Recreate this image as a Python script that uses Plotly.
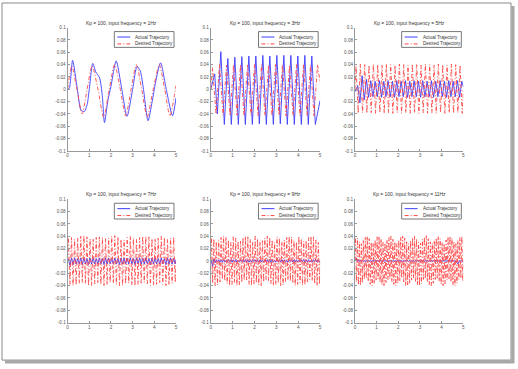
import numpy as np
import plotly.graph_objects as go

W, H = 518, 369

# ---------------- text / ticks ----------------
titles = ["Kp = 100, input frequency = 1Hz", "Kp = 100, input frequency = 3Hz",
          "Kp = 100, input frequency = 5Hz", "Kp = 100, input frequency = 7Hz",
          "Kp = 100, input frequency = 9Hz", "Kp = 100, input frequency = 11Hz"]
legend_labels = ["Actual Trajectory", "Desired Trajectory"]
x_ticks = [0, 1, 2, 3, 4, 5]
x_tick_labels = ["0", "1", "2", "3", "4", "5"]
y_ticks = [0.1, 0.08, 0.06, 0.04, 0.02, 0, -0.02, -0.04, -0.06, -0.08, -0.1]
y_tick_labels = ["0.1", "0.08", "0.06", "0.04", "0.02", "0", "-0.02", "-0.04", "-0.06", "-0.08", "-0.1"]

# ---------------- 1 Hz ----------------
t_act_1 = [0.00, 0.08, 0.23, 0.45, 0.62, 0.77, 0.90, 1.00, 1.16, 1.30, 1.47, 1.60, 1.70, 1.86, 2.00,
           2.24, 2.50, 2.74, 3.00, 3.20, 3.35, 3.50, 3.71, 3.90, 4.05, 4.29, 4.55, 4.84, 5.00]
y_act_1 = [0.000, 0.002, 0.047, 0.000, -0.034, -0.036, -0.025, 0.000, 0.042, 0.028, 0.019, -0.010, -0.054, -0.018, 0.005,
           0.046, 0.000, -0.044, 0.000, 0.037, 0.030, 0.000, -0.051, -0.020, 0.010, 0.043, 0.000, -0.043, -0.014]
t_des_1 = [0.00, 0.19, 0.43, 0.67, 0.90, 1.13, 1.40, 1.66, 1.92, 2.17, 2.43, 2.68, 2.93, 3.17, 3.42,
           3.67, 3.95, 4.23, 4.48, 4.72, 5.00]
y_des_1 = [0.000, 0.038, 0.000, -0.040, 0.000, 0.038, 0.000, -0.045, 0.000, 0.040, 0.000, -0.043, 0.000, 0.040, 0.000,
           -0.045, 0.000, 0.040, 0.000, -0.043, 0.006]

# ---------------- 3 Hz ----------------
t_act_2 = [0.00, 0.18, 0.30, 0.46, 0.62, 0.78, 0.94, 1.10, 1.26, 1.42, 1.58, 1.74, 1.90, 2.06, 2.22, 2.38,
           2.54, 2.70, 2.86, 3.02, 3.18, 3.34, 3.50, 3.66, 3.82, 3.98, 4.14, 4.30, 4.46, 4.62, 4.78, 5.00]
y_act_2 = [0.000, 0.025, -0.040, 0.061, -0.057, 0.050, -0.057, 0.052, -0.057, 0.053, -0.057, 0.054, -0.057, 0.054,
           -0.056, 0.055, -0.057, 0.054, -0.057, 0.055, -0.056, 0.055, -0.057, 0.055, -0.057, 0.054, -0.057, 0.055,
           -0.057, 0.054, -0.057, -0.018]
t_des_2 = [0.00, 0.08, 0.24, 0.40, 0.56, 0.72, 0.88, 1.04, 1.20, 1.36, 1.52, 1.68, 1.84, 2.00, 2.16, 2.32, 2.48,
           2.64, 2.80, 2.96, 3.12, 3.28, 3.44, 3.60, 3.76, 3.92, 4.08, 4.24, 4.40, 4.56, 4.72, 4.88, 5.00]
y_des_2 = [0.000, 0.035, -0.040, 0.040, -0.042, 0.039, -0.043, 0.040, -0.042, 0.040, -0.043, 0.039, -0.042, 0.040,
           -0.043, 0.040, -0.042, 0.039, -0.043, 0.040, -0.042, 0.040, -0.043, 0.039, -0.042, 0.040, -0.043, 0.040,
           -0.042, 0.039, -0.043, 0.040, 0.010]

# ---------------- 5 Hz (extremes sampled every 0.1 s) ----------------
y_act_3 = [0.000,
           -0.003, 0.006, -0.022, 0.022, -0.017, 0.016, -0.013, 0.014, -0.012, 0.013,
           -0.012, 0.014, -0.013, 0.013, -0.012, 0.014, -0.012, 0.013, -0.013, 0.014,
           -0.012, 0.013, -0.012, 0.014, -0.013, 0.013, -0.012, 0.014, -0.012, 0.013,
           -0.013, 0.014, -0.012, 0.013, -0.012, 0.014, -0.013, 0.013, -0.012, 0.014,
           -0.012, 0.013, -0.013, 0.014, -0.012, 0.013, -0.012, 0.014, -0.013, 0.013,
           0.004]
y_des_3 = [0.000,
           0.038, -0.039, 0.041, -0.038, 0.040, -0.039, 0.039, -0.038, 0.041, -0.039,
           0.040, -0.038, 0.039, -0.039, 0.041, -0.038, 0.040, -0.039, 0.039, -0.038,
           0.041, -0.039, 0.040, -0.038, 0.039, -0.039, 0.041, -0.038, 0.040, -0.039,
           0.039, -0.038, 0.041, -0.039, 0.040, -0.038, 0.039, -0.039, 0.041, -0.038,
           0.040, -0.039, 0.039, -0.038, 0.041, -0.039, 0.040, -0.038, 0.039, -0.039,
           0.000]

# ---------------- 7 Hz ----------------
y_act_4 = [0.000,
           0.003, -0.007, 0.005, -0.006, 0.005, -0.005, 0.004, -0.005, 0.005, -0.006,
           0.005, -0.005, 0.004, -0.006, 0.005, -0.005, 0.005, -0.005, 0.004, -0.005,
           0.005, -0.005, 0.004, -0.006, 0.005, -0.005, 0.005, -0.005, 0.004, -0.005,
           0.005, -0.005, 0.004, -0.006, 0.005, -0.005, 0.005, -0.005, 0.004, -0.005,
           0.005, -0.005, 0.004, -0.006, 0.005, -0.005, 0.005, -0.005, 0.004, -0.005,
           0.005, -0.005, 0.004, -0.006, 0.005, -0.005, 0.005, -0.005, 0.004, -0.005,
           0.005, -0.005, 0.004, -0.006, 0.005, -0.005, 0.005, -0.005, 0.004, -0.005,
           0.002]
y_des_4 = [0.000,
           0.040, -0.038, 0.038, -0.040, 0.035, -0.039, 0.037, -0.036, 0.040, -0.035,
           0.041, -0.037, 0.039, -0.040, 0.036, -0.040, 0.035, -0.037, 0.038, -0.035,
           0.039, -0.038, 0.038, -0.040, 0.036, -0.039, 0.037, -0.035, 0.040, -0.036,
           0.041, -0.038, 0.039, -0.040, 0.035, -0.040, 0.034, -0.037, 0.038, -0.036,
           0.040, -0.039, 0.037, -0.040, 0.035, -0.038, 0.038, -0.036, 0.040, -0.035,
           0.040, -0.037, 0.039, -0.040, 0.036, -0.039, 0.035, -0.038, 0.037, -0.035,
           0.040, -0.038, 0.038, -0.040, 0.035, -0.039, 0.037, -0.036, 0.039, -0.035,
           0.000]

# ---------------- 9 Hz ----------------
y_act_5 = [0.000,
           0.001, -0.009, 0.003, -0.003, 0.002, -0.002, 0.002, -0.002, 0.002, -0.002,
           0.002, -0.002, 0.001, -0.002, 0.002, -0.001, 0.002, -0.002, 0.002, -0.002,
           0.002, -0.002, 0.001, -0.002, 0.002, -0.001, 0.002, -0.002, 0.002, -0.002,
           0.002, -0.002, 0.001, -0.002, 0.002, -0.001, 0.002, -0.002, 0.002, -0.002,
           0.002, -0.002, 0.001, -0.002, 0.002, -0.001, 0.002, -0.002, 0.002, -0.002,
           0.002, -0.002, 0.001, -0.002, 0.002, -0.001, 0.002, -0.002, 0.002, -0.002,
           0.002, -0.002, 0.001, -0.002, 0.002, -0.001, 0.002, -0.002, 0.002, -0.002,
           0.002, -0.002, 0.001, -0.002, 0.002, -0.001, 0.002, -0.002, 0.002, -0.002,
           0.002, -0.002, 0.001, -0.002, 0.002, -0.001, 0.002, -0.002, 0.002, -0.002,
           0.000]
y_des_5 = [0.000,
           0.040, -0.036, 0.036, -0.040, 0.031, -0.039, 0.033, -0.034, 0.038, -0.030, 0.040, -0.032, 0.039, -0.037, 0.034, -0.040, 0.030, -0.038,
           0.039, -0.035, 0.037, -0.040, 0.032, -0.039, 0.032, -0.035, 0.038, -0.031, 0.040, -0.031, 0.039, -0.038, 0.035, -0.040, 0.031, -0.037,
           0.040, -0.036, 0.036, -0.039, 0.031, -0.040, 0.033, -0.034, 0.037, -0.030, 0.040, -0.032, 0.038, -0.037, 0.034, -0.040, 0.030, -0.038,
           0.039, -0.036, 0.037, -0.040, 0.031, -0.039, 0.034, -0.033, 0.038, -0.031, 0.040, -0.033, 0.039, -0.036, 0.033, -0.040, 0.031, -0.038,
           0.040, -0.035, 0.036, -0.040, 0.032, -0.039, 0.033, -0.034, 0.038, -0.030, 0.040, -0.032, 0.039, -0.037, 0.034, -0.040, 0.030, -0.038,
           0.000]

# ---------------- 11 Hz ----------------
y_act_6 = [0.000,
           0.002, 0.004, -0.001, 0.002, -0.001, 0.001, -0.001, 0.001, -0.001, 0.001,
           -0.001, 0.001, -0.001, 0.001, -0.001, 0.001, -0.001, 0.001, -0.001, 0.001,
           -0.001, 0.001, -0.001, 0.001, -0.001, 0.001, -0.001, 0.001, -0.001, 0.001,
           -0.001, 0.001, -0.001, 0.001, -0.001, 0.001, -0.001, 0.001, -0.001, 0.001,
           -0.001, 0.001, -0.001, 0.001, -0.001, 0.001, -0.001, 0.001, -0.001, 0.001,
           -0.001, 0.001, -0.001, 0.001, -0.001, 0.001, -0.001, 0.001, -0.001, 0.001,
           -0.001, 0.001, -0.001, 0.001, -0.001, 0.001, -0.001, 0.001, -0.001, 0.001,
           -0.001, 0.001, -0.001, 0.001, -0.001, 0.001, -0.001, 0.001, -0.001, 0.001,
           -0.001, 0.001, -0.001, 0.001, -0.001, 0.001, -0.001, 0.001, -0.001, 0.001,
           -0.001, 0.001, -0.001, 0.001, -0.001, 0.001, -0.001, 0.001, -0.001, 0.001,
           -0.001, 0.001, -0.001, -0.002, -0.005, -0.001, 0.001, -0.001, 0.001, -0.001,
           0.001]
y_des_6 = [0.000,
           0.040, -0.034, 0.037, -0.039, 0.031, -0.040, 0.028, -0.036, 0.033, -0.030, 0.038, -0.028,
           0.040, -0.033, 0.036, -0.038, 0.030, -0.040, 0.029, -0.037, 0.034, -0.031, 0.039, -0.029,
           0.040, -0.035, 0.036, -0.039, 0.030, -0.040, 0.029, -0.035, 0.034, -0.030, 0.038, -0.029,
           0.040, -0.034, 0.035, -0.038, 0.031, -0.040, 0.028, -0.036, 0.034, -0.032, 0.039, -0.028,
           0.040, -0.034, 0.037, -0.040, 0.031, -0.039, 0.028, -0.036, 0.033, -0.031, 0.038, -0.028,
           0.040, -0.033, 0.036, -0.039, 0.030, -0.040, 0.029, -0.037, 0.035, -0.030, 0.039, -0.029,
           0.041, -0.034, 0.036, -0.039, 0.031, -0.040, 0.029, -0.036, 0.033, -0.030, 0.037, -0.028,
           0.040, -0.033, 0.036, -0.038, 0.030, -0.040, 0.028, -0.037, 0.034, -0.031, 0.039, -0.029,
           0.040, -0.034, 0.037, -0.039, 0.031, -0.040, 0.028, -0.036, 0.033, -0.030, 0.038, -0.028,
           0.040, -0.033,
           0.000]

# sample-time grids (extremes every half period, plus start/end points)
def grid(first, last, n):
    return np.concatenate([[0.0], np.linspace(first, last, n - 2), [5.0]])

t_act_3 = grid(0.03, 4.93, len(y_act_3)); t_des_3 = grid(0.05, 4.95, len(y_des_3))
t_act_4 = grid(0.036, 4.964, len(y_act_4)); t_des_4 = grid(0.036, 4.964, len(y_des_4))
t_act_5 = grid(0.028, 4.972, len(y_act_5)); t_des_5 = grid(0.028, 4.972, len(y_des_5))
t_act_6 = grid(0.023, 4.977, len(y_act_6)); t_des_6 = grid(0.023, 4.977, len(y_des_6))

series = [(t_act_1, y_act_1, t_des_1, y_des_1), (t_act_2, y_act_2, t_des_2, y_des_2),
          (t_act_3, y_act_3, t_des_3, y_des_3), (t_act_4, y_act_4, t_des_4, y_des_4),
          (t_act_5, y_act_5, t_des_5, y_des_5), (t_act_6, y_act_6, t_des_6, y_des_6)]

# ---------------- layout geometry (pixels) ----------------
cols_px = [(67, 176), (211, 321), (356, 465)]
rows_px = [(26, 151), (200, 325)]

def px(x):
    return x / W

def py(y):
    return 1 - y / H

FONT = "Liberation Sans, Arial, sans-serif"
BLUE = "rgb(60,60,255)"
RED = "rgb(255,70,70)"
RED_DASH = "4px,2px,1px,2px"

fig = go.Figure()
shapes = []
annotations = []

for i, (ta, ya, td, yd) in enumerate(series):
    r, c = divmod(i, 3)
    xa = "x" if i == 0 else f"x{i+1}"
    yax = "y" if i == 0 else f"y{i+1}"
    shape = "spline" if i == 0 else "linear"
    fig.add_trace(go.Scatter(x=ta, y=ya, mode="lines", xaxis=xa, yaxis=yax,
                             name=legend_labels[0], showlegend=False,
                             line=dict(color=BLUE, width=0.9, shape=shape, smoothing=0.7)))
    fig.add_trace(go.Scatter(x=td, y=yd, mode="lines", xaxis=xa, yaxis=yax,
                             name=legend_labels[1], showlegend=False,
                             line=dict(color=RED, width=0.9, dash=RED_DASH, shape=shape, smoothing=0.7)))

    x0, x1 = cols_px[c]
    y0, y1 = rows_px[r]
    key = "" if i == 0 else str(i + 1)
    fig.update_layout(**{
        f"xaxis{key}": dict(domain=[px(x0), px(x1)], range=[0, 5], anchor=yax,
                            tickvals=x_ticks, ticktext=x_tick_labels, ticks="inside", ticklen=2,
                            tickcolor="#999999", showline=True, linecolor="#999999", linewidth=1,
                            showgrid=False, zeroline=False,
                            tickfont=dict(size=4.6, color="#555555", family=FONT)),
        f"yaxis{key}": dict(domain=[py(y1), py(y0)], range=[-0.1, 0.1], anchor=xa,
                            tickvals=y_ticks, ticktext=y_tick_labels, ticks="inside", ticklen=2,
                            tickcolor="#999999", showline=True, linecolor="#999999", linewidth=1,
                            showgrid=False, zeroline=False,
                            tickfont=dict(size=4.6, color="#555555", family=FONT)),
    })

    # title
    annotations.append(dict(x=px((x0 + x1) / 2), y=py(y0 - 4.5), xref="paper", yref="paper",
                            text=titles[i], showarrow=False, xanchor="center", yanchor="middle",
                            font=dict(size=4.9, color="#333333", family=FONT)))

    # legend box
    bx0, bx1 = x1 - 62, x1 - 2
    by0, by1 = y0 + 4, y0 + 20
    shapes.append(dict(type="rect", xref="paper", yref="paper",
                       x0=px(bx0), x1=px(bx1), y0=py(by1), y1=py(by0),
                       line=dict(color="#555555", width=0.8), fillcolor="white", layer="above"))
    for k, (lbl, col, dash) in enumerate([(legend_labels[0], BLUE, "solid"),
                                          (legend_labels[1], RED, RED_DASH)]):
        ly = by0 + 5.5 + k * 7
        shapes.append(dict(type="line", xref="paper", yref="paper",
                           x0=px(bx0 + 3), x1=px(bx0 + 16), y0=py(ly), y1=py(ly),
                           line=dict(color=col, width=1, dash=dash), layer="above"))
        annotations.append(dict(x=px(bx0 + 19), y=py(ly), xref="paper", yref="paper",
                                text=lbl, showarrow=False, xanchor="left", yanchor="middle",
                                font=dict(size=4.6, color="#333333", family=FONT)))

# window frame with shadow
shapes.append(dict(type="line", xref="paper", yref="paper", x0=px(515), x1=px(515), y0=py(366), y1=py(4),
                   line=dict(color="#a8a8a8", width=3), layer="above"))
shapes.append(dict(type="line", xref="paper", yref="paper", x0=px(4), x1=px(516), y0=py(365), y1=py(365),
                   line=dict(color="#a8a8a8", width=3), layer="above"))
shapes.append(dict(type="rect", xref="paper", yref="paper", x0=px(1), x1=px(513), y0=py(363), y1=py(1),
                   line=dict(color="#8a8a8a", width=1), layer="above"))

fig.update_layout(width=W, height=H, margin=dict(l=0, r=0, t=0, b=0),
                  paper_bgcolor="white", plot_bgcolor="white",
                  shapes=shapes, annotations=annotations, showlegend=False,
                  font=dict(family=FONT))

fig.write_html("out.html", config={"displayModeBar": False, "staticPlot": True},
               post_script="document.body.style.margin='0';")
